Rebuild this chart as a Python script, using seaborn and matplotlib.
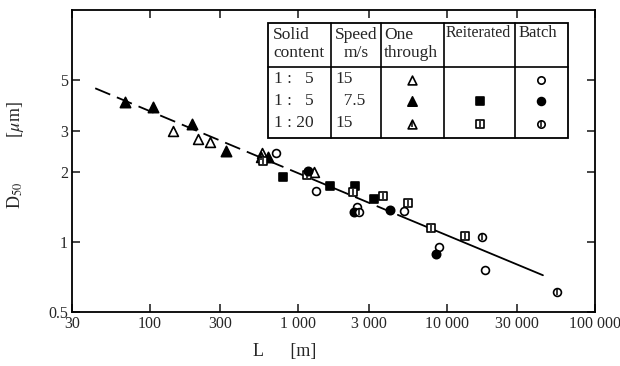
import matplotlib
matplotlib.use('Agg')
import matplotlib.pyplot as plt
import matplotlib.ticker as mticker
import seaborn as sns

# data: L [m], D50 [um]
# one through
ot15_x = [144, 212, 255, 570, 1278]          # 1:5, 15 m/s (open triangle)
ot15_y = [3.01, 2.78, 2.70, 2.42, 2.00]
ot75_x = [68, 105, 193, 327, 627]            # 1:5, 7.5 m/s (filled triangle)
ot75_y = [4.02, 3.83, 3.23, 2.47, 2.33]
ot20_x = [560]                               # 1:20, 15 m/s (triangle with bar)
ot20_y = [2.32]
# reiterated
re75_x = [790, 1640, 2410, 3240]             # 1:5, 7.5 m/s (filled square)
re75_y = [1.91, 1.75, 1.74, 1.53]
re20_x = [580, 1147, 2340, 3720, 5490, 7850, 13300]   # 1:20 (square with bar)
re20_y = [2.24, 1.94, 1.64, 1.58, 1.47, 1.15, 1.06]
# batch
ba15_x = [709, 1320, 2490, 5160, 8880, 18100]          # 1:5, 15 m/s (open circle)
ba15_y = [2.42, 1.66, 1.42, 1.36, 0.95, 0.76]
ba75_x = [1165, 2380, 4150, 8480]            # 1:5, 7.5 m/s (filled circle)
ba75_y = [2.03, 1.35, 1.37, 0.89]
ba20_x = [2570, 17300, 55400]                # 1:20 (circle with bar)
ba20_y = [1.35, 1.05, 0.61]

# fitted line
fit_dash_x = [43, 4700]
fit_dash_y = [4.6, 1.31]
fit_solid_x = [4700, 44600]
fit_solid_y = [1.31, 0.72]

x_ticks = [30, 100, 300, 1000, 3000, 10000, 30000, 100000]
x_tick_labels = ['30', '100', '300', '1 000', '3 000', '10 000', '30 000', '100 000']
y_ticks = [0.5, 1, 2, 3, 5]
y_tick_labels = ['0.5', '1', '2', '3', '5']

sns.set_style('ticks')
plt.rcParams['font.family'] = ['Liberation Serif', 'DejaVu Serif']
plt.rcParams['mathtext.fontset'] = 'stix'

fig = plt.figure(figsize=(6.2, 3.66), dpi=100)
ax = fig.add_axes([72 / 620, 54 / 366, 523 / 620, 302 / 366])

k = dict(color='black', ax=ax, legend=False)
sns.lineplot(x=fit_dash_x, y=fit_dash_y, lw=1.3, linestyle=(0, (9, 4)), **k)
sns.lineplot(x=fit_solid_x, y=fit_solid_y, lw=1.3, **k)

m = dict(ax=ax, edgecolor='black', linewidth=1.2, legend=False, zorder=3)
sns.scatterplot(x=ot15_x, y=ot15_y, marker='^', s=50, facecolor='white', **m)
sns.scatterplot(x=ot75_x, y=ot75_y, marker='^', s=55, facecolor='black', **m)
sns.scatterplot(x=ot20_x, y=ot20_y, marker='^', s=50, facecolor='white', **m)
sns.scatterplot(x=re75_x, y=re75_y, marker='s', s=32, facecolor='black', **m)
sns.scatterplot(x=re20_x, y=re20_y, marker='s', s=30, facecolor='white', **m)
sns.scatterplot(x=ba15_x, y=ba15_y, marker='o', s=32, facecolor='white', **m)
sns.scatterplot(x=ba75_x, y=ba75_y, marker='o', s=36, facecolor='black', **m)
sns.scatterplot(x=ba20_x, y=ba20_y, marker='o', s=32, facecolor='white', **m)
# inner bars for the 1:20 series
for xs, ys in [(ot20_x, ot20_y), (re20_x, re20_y), (ba20_x, ba20_y)]:
    ax.scatter(xs, ys, marker='|', s=18, color='black', linewidths=1.1, zorder=4)

ax.set_xscale('log')
ax.set_yscale('log')
ax.set_xlim(30, 100000)
ax.set_ylim(0.5, 10)
ax.xaxis.set_major_locator(mticker.FixedLocator(x_ticks))
ax.xaxis.set_major_formatter(mticker.FixedFormatter(x_tick_labels))
ax.yaxis.set_major_locator(mticker.FixedLocator(y_ticks))
ax.yaxis.set_major_formatter(mticker.FixedFormatter(y_tick_labels))
ax.xaxis.set_minor_locator(mticker.NullLocator())
ax.yaxis.set_minor_locator(mticker.NullLocator())
ax.tick_params(direction='in', length=6, width=1.2, labelsize=11.5, top=True, right=True, pad=3)
for sp in ax.spines.values():
    sp.set_linewidth(1.3)
    sp.set_color('black')

ax.set_xlabel('L      [m]', fontsize=13)
ax.xaxis.set_label_coords((285 - 72) / 523, -0.132)
ax.xaxis.label.set_va('center')
ax.set_ylabel('D$_{50}$          [$\\mu$m]', fontsize=13)
ax.yaxis.set_label_coords((16 - 72) / 523, (312 - 155) / 302)
ax.yaxis.label.set_va('center')


# legend table drawn in pixel-based axes coordinates
def ax_xy(px, py):
    return (px - 72) / 523, (312 - py) / 302


tk = dict(transform=ax.transAxes, color='black', lw=1.2, clip_on=False, zorder=5)
x0, y0 = ax_xy(268, 138)
x1, y1 = ax_xy(568, 23)
ax.add_patch(plt.Rectangle((x0, y0), x1 - x0, y1 - y0, facecolor='white',
                           edgecolor='black', lw=1.3, transform=ax.transAxes, zorder=5))
for cx in [331, 381, 444, 515]:
    a, b = ax_xy(cx, 23)
    a, c = ax_xy(cx, 138)
    ax.plot([a, a], [b, c], **tk)
a, b = ax_xy(268, 67)
c, b = ax_xy(568, 67)
ax.plot([a, c], [b, b], **tk)

t = dict(transform=ax.transAxes, fontsize=12.5, zorder=6, va='center')
header = [(273, 44, 'Solid\ncontent', 'left', 12.5), (356, 44, 'Speed\nm/s', 'center', 12.5),
          (384, 44, 'One\nthrough', 'left', 12.5), (446, 33, 'Reiterated', 'left', 11.5),
          (519, 33, 'Batch', 'left', 12)]
for px, py, s, ha, fs in header:
    t['fontsize'] = fs
    ax.text(*ax_xy(px, py), s, ha=ha, linespacing=1.15, **t)

t['fontsize'] = 12.5
solid_labels = ['1 :   5', '1 :   5', '1 : 20']
speed_labels = ['15', '  7.5', '15']
row_y = [79, 101, 123]
for py, sl, sp in zip(row_y, solid_labels, speed_labels):
    ax.text(*ax_xy(274, py), sl, ha='left', **t)
    ax.text(*ax_xy(335, py), sp, ha='left', **t)

leg = dict(transform=ax.transAxes, edgecolor='black', linewidth=1.2, zorder=7, clip_on=False)
ax.scatter(*ax_xy(412, 80), marker='^', s=40, facecolor='white', **leg)
ax.scatter(*ax_xy(412, 101), marker='^', s=45, facecolor='black', **leg)
ax.scatter(*ax_xy(412, 124), marker='^', s=40, facecolor='white', **leg)
ax.scatter(*ax_xy(480, 101), marker='s', s=28, facecolor='black', **leg)
ax.scatter(*ax_xy(480, 124), marker='s', s=26, facecolor='white', **leg)
ax.scatter(*ax_xy(541, 80), marker='o', s=28, facecolor='white', **leg)
ax.scatter(*ax_xy(541, 101), marker='o', s=32, facecolor='black', **leg)
ax.scatter(*ax_xy(541, 124), marker='o', s=28, facecolor='white', **leg)
for px in [412, 480, 541]:
    ax.scatter(*ax_xy(px, 124), marker='|', s=14, color='black', linewidths=1.1,
               transform=ax.transAxes, zorder=8, clip_on=False)

fig.savefig('out.png', dpi=100)
